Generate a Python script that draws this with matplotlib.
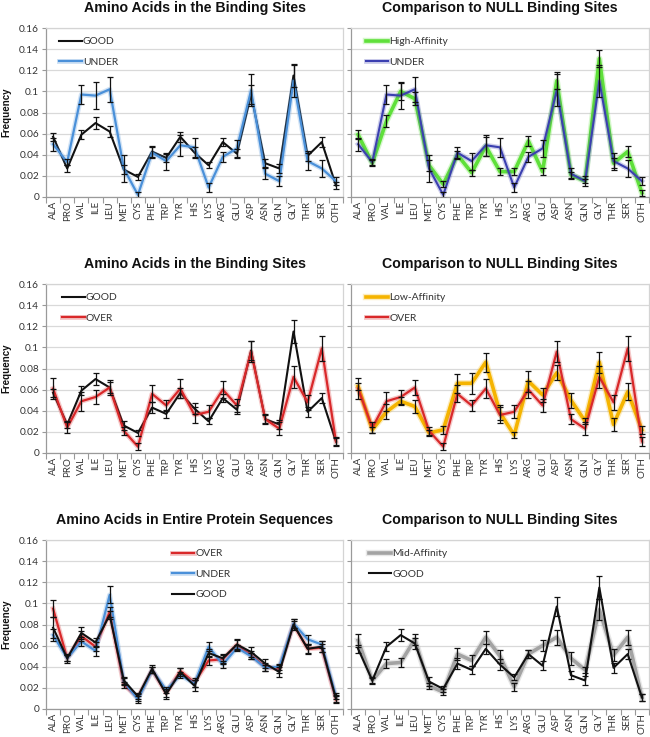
import matplotlib
matplotlib.use("Agg")
import matplotlib.pyplot as plt
import matplotlib.patheffects as pe
import numpy as np

plt.rcParams["font.family"] = ["Lato", "DejaVu Sans"]

AMINO = ["ALA", "PRO", "VAL", "ILE", "LEU", "MET", "CYS", "PHE", "TRP", "TYR", "HIS",
         "LYS", "ARG", "GLU", "ASP", "ASN", "GLN", "GLY", "THR", "SER", "OTH"]

# binding-site frequencies
GOOD_SITE = [0.057, 0.027, 0.059, 0.070, 0.062, 0.026, 0.019, 0.043, 0.037, 0.057, 0.042,
             0.030, 0.052, 0.041, 0.097, 0.032, 0.027, 0.115, 0.039, 0.052, 0.011]
GOOD_SITE_ERR = [0.004, 0.003, 0.004, 0.006, 0.005, 0.004, 0.003, 0.005, 0.004, 0.005, 0.005,
                 0.003, 0.004, 0.004, 0.009, 0.004, 0.004, 0.011, 0.005, 0.005, 0.003]
UNDER_SITE = [0.050, 0.033, 0.097, 0.096, 0.102, 0.027, 0.002, 0.042, 0.034, 0.049, 0.047,
              0.009, 0.038, 0.046, 0.101, 0.022, 0.015, 0.110, 0.034, 0.027, 0.015]
UNDER_SITE_ERR = [0.006, 0.003, 0.009, 0.013, 0.012, 0.013, 0.003, 0.005, 0.008, 0.010, 0.009,
                  0.004, 0.005, 0.008, 0.015, 0.005, 0.005, 0.015, 0.008, 0.008, 0.004]
OVER_SITE = [0.061, 0.024, 0.049, 0.053, 0.062, 0.021, 0.006, 0.056, 0.045, 0.061, 0.036,
             0.039, 0.060, 0.045, 0.096, 0.032, 0.023, 0.072, 0.048, 0.099, 0.011]
OVER_SITE_ERR = [0.010, 0.005, 0.009, 0.007, 0.007, 0.004, 0.003, 0.008, 0.005, 0.009, 0.008,
                 0.006, 0.008, 0.006, 0.010, 0.005, 0.006, 0.010, 0.007, 0.012, 0.004]

# NULL binding-site comparisons
HIGH_AFF = [0.059, 0.032, 0.072, 0.100, 0.093, 0.030, 0.012, 0.040, 0.023, 0.048, 0.024,
            0.024, 0.053, 0.024, 0.110, 0.021, 0.015, 0.131, 0.032, 0.043, 0.004]
HIGH_AFF_ERR = [0.004, 0.003, 0.006, 0.008, 0.006, 0.005, 0.003, 0.004, 0.003, 0.009, 0.003,
                0.003, 0.005, 0.003, 0.008, 0.003, 0.002, 0.008, 0.005, 0.005, 0.003]
LOW_AFF = [0.063, 0.022, 0.039, 0.049, 0.044, 0.019, 0.022, 0.066, 0.066, 0.086, 0.038,
           0.017, 0.068, 0.055, 0.076, 0.050, 0.030, 0.086, 0.027, 0.058, 0.022]
LOW_AFF_ERR = [0.003, 0.003, 0.007, 0.004, 0.006, 0.003, 0.004, 0.009, 0.010, 0.009, 0.007,
               0.003, 0.010, 0.007, 0.007, 0.007, 0.003, 0.010, 0.006, 0.008, 0.004]
MID_AFF = [0.065, 0.027, 0.043, 0.044, 0.066, 0.022, 0.016, 0.052, 0.046, 0.068, 0.050,
           0.021, 0.052, 0.060, 0.068, 0.048, 0.037, 0.094, 0.051, 0.068, 0.011]
MID_AFF_ERR = [0.006, 0.002, 0.004, 0.004, 0.005, 0.003, 0.003, 0.006, 0.005, 0.006, 0.006,
               0.004, 0.004, 0.005, 0.007, 0.006, 0.003, 0.010, 0.006, 0.007, 0.003]

# entire protein sequences
OVER_ALL = [0.095, 0.048, 0.069, 0.059, 0.092, 0.023, 0.011, 0.037, 0.015, 0.036, 0.025,
            0.046, 0.047, 0.061, 0.051, 0.040, 0.038, 0.080, 0.057, 0.058, 0.009]
OVER_ALL_ERR = [0.008, 0.003, 0.005, 0.004, 0.005, 0.003, 0.003, 0.003, 0.004, 0.003, 0.004,
                0.004, 0.004, 0.004, 0.004, 0.004, 0.004, 0.003, 0.004, 0.004, 0.003]
UNDER_ALL = [0.070, 0.048, 0.064, 0.055, 0.108, 0.026, 0.009, 0.037, 0.018, 0.032, 0.024,
             0.059, 0.042, 0.058, 0.050, 0.039, 0.040, 0.081, 0.066, 0.061, 0.012]
UNDER_ALL_ERR = [0.006, 0.003, 0.004, 0.005, 0.008, 0.003, 0.003, 0.003, 0.003, 0.003, 0.003,
                 0.004, 0.003, 0.003, 0.003, 0.003, 0.003, 0.004, 0.004, 0.003, 0.003]
GOOD_ALL = [0.077, 0.048, 0.072, 0.063, 0.089, 0.027, 0.012, 0.038, 0.014, 0.035, 0.022,
            0.053, 0.048, 0.061, 0.054, 0.043, 0.035, 0.080, 0.057, 0.059, 0.010]
GOOD_ALL_ERR = [0.010, 0.004, 0.006, 0.004, 0.004, 0.003, 0.003, 0.004, 0.005, 0.004, 0.005,
                0.004, 0.004, 0.005, 0.005, 0.004, 0.005, 0.005, 0.005, 0.005, 0.003]

Y_TICKS = [0, 0.02, 0.04, 0.06, 0.08, 0.1, 0.12, 0.14, 0.16]
Y_TICK_LABELS = ["0", "0.02", "0.04", "0.06", "0.08", "0.1", "0.12", "0.14", "0.16"]

BLACK = "#111111"
LIGHT_BLUE = "#4a90d9"
DARK_BLUE = "#3b3fb0"
RED = "#d9282a"
GREEN = "#5fe03a"
GOLD = "#f5b400"
GRAY = "#a3a3a3"
GRID = "#d9d9d9"
TEXT = "#333333"


def draw_panel(ax, series, title, legend_xy, ylabel=True):
    x = np.arange(len(AMINO))
    for i, (label, vals, err, color, lw) in enumerate(series):
        effects = [pe.Normal()]
        if color != BLACK:
            # soft Excel-like glow around coloured lines
            effects = [pe.Stroke(linewidth=lw + 2.0, foreground=color, alpha=0.25), pe.Normal()]
        ax.plot(x, vals, color=color, lw=lw, label=label, zorder=3 + i,
                solid_joinstyle="round", path_effects=effects)
        ax.errorbar(x, vals, yerr=err, fmt="none", ecolor=BLACK, elinewidth=0.9,
                    capsize=2.4, capthick=0.9, zorder=10)

    ax.set_xlim(-0.5, len(AMINO) - 0.5)
    ax.set_ylim(0, 0.16)
    ax.set_yticks(Y_TICKS)
    if ylabel:
        ax.set_yticklabels(Y_TICK_LABELS, fontsize=7.3, color=TEXT)
        ax.set_ylabel("Frequency", fontsize=7, fontweight="bold", color=BLACK,
                      family=["Liberation Sans", "DejaVu Sans"])
        ax.yaxis.set_label_coords(-0.118, 0.5)
    else:
        ax.set_yticklabels([])
    ax.set_xticks(x)
    ax.set_xticklabels(AMINO, rotation=90, fontsize=7, color=TEXT)
    ax.set_xticks(np.arange(-0.5, len(AMINO), 1), minor=True)
    ax.tick_params(axis="x", which="major", length=0, pad=3)
    ax.tick_params(axis="x", which="minor", length=4, color="#999999", width=0.8)
    ax.tick_params(axis="y", length=3, color="#999999", width=0.8, pad=2)
    ax.grid(axis="y", color=GRID, lw=0.9, zorder=0)
    ax.set_axisbelow(True)
    for sp in ax.spines.values():
        sp.set_color("#d4d4d4")
        sp.set_linewidth(0.9)
    ax.spines["left"].set_color("#9a9a9a")
    ax.spines["bottom"].set_color("#9a9a9a")

    ax.set_title(title, fontsize=10.2, fontweight="bold", color=BLACK, pad=11.5,
                 family=["Liberation Sans", "DejaVu Sans"])
    leg = ax.legend(loc="upper left", bbox_to_anchor=legend_xy, frameon=False,
                    fontsize=7.4, handlelength=2.2, handletextpad=0.1,
                    labelspacing=1.1, borderaxespad=0)
    for t in leg.get_texts():
        t.set_color(TEXT)


fig = plt.figure(figsize=(6.5, 7.37), dpi=100)

left_x, left_w = 46 / 650, 297 / 650
right_x, right_w = 351 / 650, 298 / 650
row_h = 169 / 737
row_bottoms = [1 - 197 / 737, 1 - 453 / 737, 1 - 709 / 737]

ax1 = fig.add_axes([left_x, row_bottoms[0], left_w, row_h])
draw_panel(ax1, [("GOOD", GOOD_SITE, GOOD_SITE_ERR, BLACK, 1.5),
                 ("UNDER", UNDER_SITE, UNDER_SITE_ERR, LIGHT_BLUE, 1.6)],
           "Amino Acids in the Binding Sites", (0.03, 0.97))

ax2 = fig.add_axes([right_x, row_bottoms[0], right_w, row_h])
draw_panel(ax2, [("High-Affinity", HIGH_AFF, HIGH_AFF_ERR, GREEN, 2.6),
                 ("UNDER", UNDER_SITE, UNDER_SITE_ERR, DARK_BLUE, 1.5)],
           "Comparison to NULL Binding Sites", (0.035, 0.97), ylabel=False)

ax3 = fig.add_axes([left_x, row_bottoms[1], left_w, row_h])
draw_panel(ax3, [("GOOD", GOOD_SITE, GOOD_SITE_ERR, BLACK, 1.5),
                 ("OVER", OVER_SITE, OVER_SITE_ERR, RED, 1.6)],
           "Amino Acids in the Binding Sites", (0.04, 0.97))

ax4 = fig.add_axes([right_x, row_bottoms[1], right_w, row_h])
draw_panel(ax4, [("Low-Affinity", LOW_AFF, LOW_AFF_ERR, GOLD, 2.6),
                 ("OVER", OVER_SITE, OVER_SITE_ERR, RED, 1.6)],
           "Comparison to NULL Binding Sites", (0.035, 0.97), ylabel=False)

ax5 = fig.add_axes([left_x, row_bottoms[2], left_w, row_h])
draw_panel(ax5, [("OVER", OVER_ALL, OVER_ALL_ERR, RED, 1.6),
                 ("UNDER", UNDER_ALL, UNDER_ALL_ERR, LIGHT_BLUE, 1.6),
                 ("GOOD", GOOD_ALL, GOOD_ALL_ERR, BLACK, 1.5)],
           "Amino Acids in Entire Protein Sequences", (0.41, 0.97))

ax6 = fig.add_axes([right_x, row_bottoms[2], right_w, row_h])
draw_panel(ax6, [("Mid-Affinity", MID_AFF, MID_AFF_ERR, GRAY, 2.6),
                 ("GOOD", GOOD_SITE, GOOD_SITE_ERR, BLACK, 1.5)],
           "Comparison to NULL Binding Sites", (0.045, 0.97), ylabel=False)

fig.savefig("out.png", dpi=100, facecolor="white")
